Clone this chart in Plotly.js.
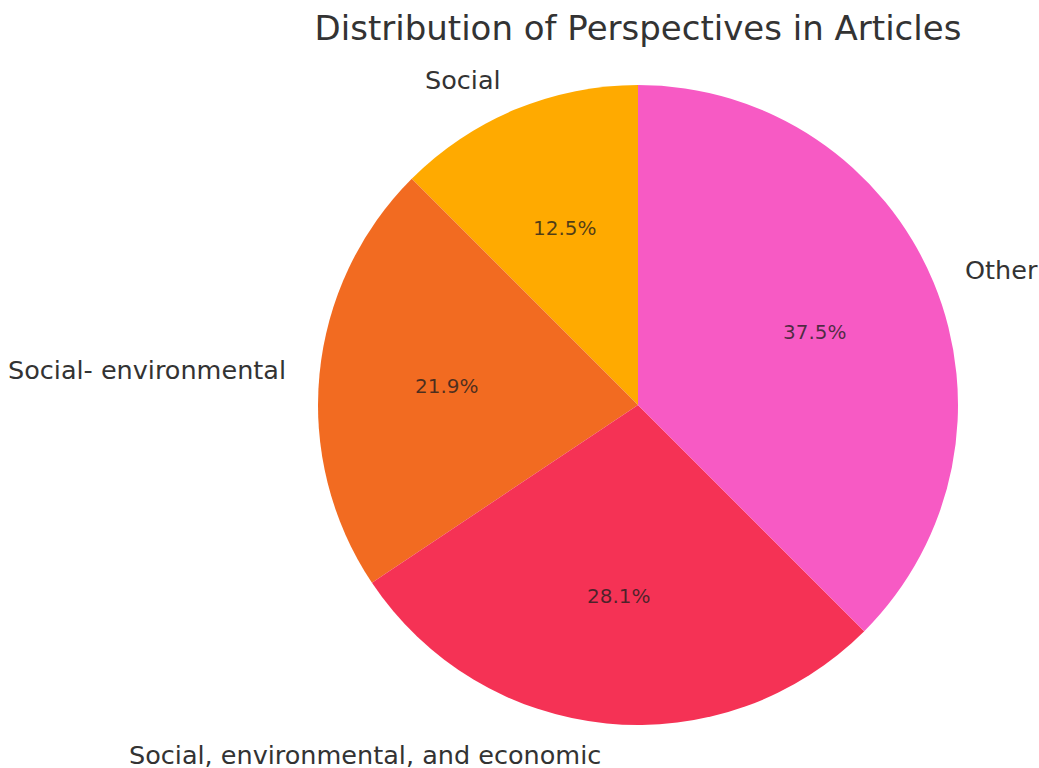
<!DOCTYPE html>
<html>
<head>
<meta charset="utf-8">
<script src="https://cdn.plot.ly/plotly-3.0.1.min.js"></script>
<style>html,body{margin:0;padding:0;background:#fff;}#chart{width:1039px;height:768px;}</style>
</head>
<body>
<div id="chart"></div>
<script>
const categories = ["Social", "Social- environmental", "Social, environmental, and economic", "Other"];
const counts = [4, 7, 9, 12];
const colors = ["#FFAA00", "#F26B21", "#F53255", "#F75AC4"];
const chartTitle = "Distribution of Perspectives in Articles";

const W = 1039, H = 768;
const cx = 638, cy = 405, R = 320;

const total = counts.reduce((a, b) => a + b, 0);
const annotations = [];
let cum = 0;
counts.forEach((v, i) => {
  const frac = v / total;
  const mid = (90 + 360 * (cum + frac / 2)) * Math.PI / 180;
  cum += frac;
  const lx = cx + 1.1 * R * Math.cos(mid), ly = cy - 1.1 * R * Math.sin(mid);
  annotations.push({
    text: categories[i], x: lx / W, y: 1 - ly / H, xref: "paper", yref: "paper",
    xanchor: Math.cos(mid) < 0 ? "right" : "left", yanchor: "middle", showarrow: false,
    font: {family: "DejaVu Sans", size: 25.5, color: "#333333"}
  });
  const px = cx + 0.6 * R * Math.cos(mid), py = cy - 0.6 * R * Math.sin(mid);
  annotations.push({
    text: (frac * 100).toFixed(1) + "%", x: px / W, y: 1 - py / H, xref: "paper", yref: "paper",
    xanchor: "center", yanchor: "middle", showarrow: false,
    font: {family: "DejaVu Sans", size: 20, color: "rgba(30,30,30,0.78)"}
  });
});

const trace = {
  type: "pie",
  labels: categories,
  values: counts,
  sort: false,
  direction: "counterclockwise",
  rotation: -360 * counts[0] / total,
  textinfo: "none",
  marker: {colors: colors, line: {width: 0}},
  domain: {x: [(cx - R) / W, (cx + R) / W], y: [(H - cy - R) / H, (H - cy + R) / H]},
  showlegend: false
};

const layout = {
  width: W, height: H,
  margin: {l: 0, r: 0, t: 0, b: 0},
  paper_bgcolor: "#ffffff",
  title: {text: chartTitle, x: cx / W, xanchor: "center", xref: "paper", y: 1 - 28 / H, yanchor: "middle",
          font: {family: "DejaVu Sans", size: 34, color: "#333333"}},
  annotations: annotations
};

Plotly.newPlot("chart", [trace], layout, {displayModeBar: false, staticPlot: true});
</script>
</body>
</html>
